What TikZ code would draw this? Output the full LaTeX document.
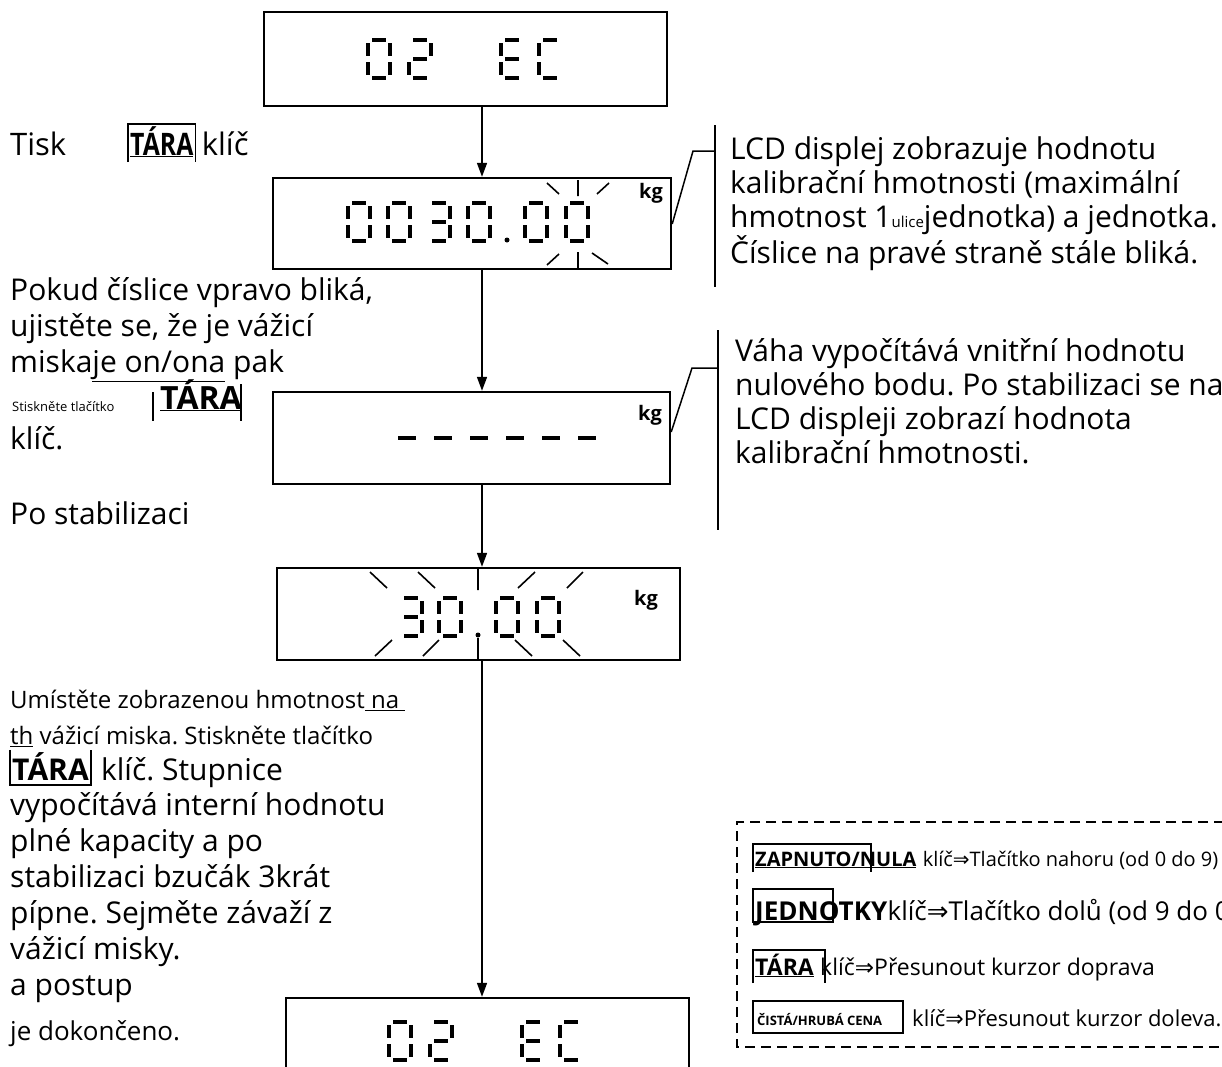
\documentclass[tikz,border=0pt]{standalone}
\usepackage{fontspec}
\setmainfont{Open Sans}
\newfontfamily\arrowfont{DejaVu Sans}
\newfontfamily\narrowfont[FakeStretch=0.8]{Open Sans}
\usetikzlibrary{positioning, arrows.meta}
\frenchspacing

\newcommand\px[1]{\fontsize{#1}{#1}\selectfont}
\newcommand\impl{{\arrowfont ⇒}}

% seven segment pieces, cell 26 x 42
\newcommand\sgA{\draw[segline] (6,2) -- (20,2);}
\newcommand\sgB{\draw[segline] (24,5) -- (24,18);}
\newcommand\sgC{\draw[segline] (24,24) -- (24,37);}
\newcommand\sgD{\draw[segline] (6,40) -- (20,40);}
\newcommand\sgE{\draw[segline] (2,24) -- (2,37);}
\newcommand\sgF{\draw[segline] (2,5) -- (2,18);}
\newcommand\sgG{\draw[segline] (6,21) -- (20,21);}
\newcommand\digzero{\sgA\sgB\sgC\sgD\sgE\sgF}
\newcommand\digtwo{\sgA\sgB\sgG\sgE\sgD}
\newcommand\digthree{\sgA\sgB\sgG\sgC\sgD}
\newcommand\digE{\sgA\sgF\sgG\sgE\sgD}
\newcommand\digC{\sgA\sgF\sgE\sgD}
\newcommand\segdigit[3]{\begin{scope}[shift={(#1,#2)}]#3\end{scope}}

\begin{document}
\begin{tikzpicture}[x=1pt, y=-1pt,
  lcd/.style={draw, line width=2.4pt, inner sep=0pt},
  segline/.style={line width=4pt},
  ray/.style={line width=1.6pt},
  arr/.style={-{Triangle[length=14pt, width=10pt]}, line width=1.6pt},
  leader/.style={line width=1.5pt},
  frame/.style={line width=1.5pt},
  txt/.style={anchor=base west, inner sep=0pt, font=\px{30}},
  blk/.style={anchor=north west, inner sep=0pt, align=left},
  kglabel/.style={inner sep=0pt, font=\bfseries\px{20}}]

\useasboundingbox (0,0) rectangle (1222,1066);
\clip (0,0) rectangle (1222,1066);

% the five displays
\node[lcd, minimum width=403pt, minimum height=94pt] (disp1) at (465.5,59) {};
\node[lcd, minimum width=398pt, minimum height=91pt] (disp2) at (472,223.5) {};
\node[lcd, minimum width=397pt, minimum height=92pt] (disp3) at (471.5,438) {};
\node[lcd, minimum width=403pt, minimum height=92pt] (disp4) at (478.5,614) {};
\node[lcd, minimum width=403pt, minimum height=110pt] (disp5) at (487.5,1053) {};

\coordinate (axis) at (482,0);
\foreach \a/\b in {disp1/disp2, disp2/disp3, disp3/disp4, disp4/disp5}
  \draw[arr] (\a.south -| axis) -- (\b.north -| axis);

% digits
\foreach \x/\dg in {366/\digzero, 407/\digtwo, 499/\digE, 537/\digC}
  \segdigit{\x}{38}{\dg};
\foreach \x/\dg in {346/\digzero, 386/\digzero, 426/\digthree, 466/\digzero, 523/\digzero, 564/\digzero}
  \segdigit{\x}{201}{\dg};
\fill (507,240) circle (2.5);
\foreach \x in {398,434,470,506,542,578}
  \draw[segline] (\x,438) -- ++(18,0);
\foreach \x/\dg in {398/\digthree, 437/\digzero, 494/\digzero, 535/\digzero}
  \segdigit{\x}{596}{\dg};
\fill (478,635) circle (2.5);
\foreach \x/\dg in {387/\digzero, 428/\digtwo, 520/\digE, 558/\digC}
  \segdigit{\x}{1020}{\dg};

\node[kglabel] (kg2) at (651,193) {kg};
\node[kglabel] (kg3) at (650,415) {kg};
\node[kglabel] (kg4) at (646,600) {kg};

% blinking marks
\draw[ray] (547,183) -- (559,194) (578,180) -- (578,196) (597,194) -- (609,183);
\draw[ray] (547,265) -- (559,254) (578,252) -- (578,269) (592,253) -- (608,264);
\draw[ray] (370,572) -- (387,588) (418,572) -- (435,588) (478,569) -- (478,590)
  (518,588) -- (535,572) (567,588) -- (583,572);
\draw[ray] (375,656) -- (392,640) (423,656) -- (439,640) (478,638) -- (478,660)
  (515,640) -- (532,656) (563,640) -- (580,656);

% callouts
\coordinate (bar1top) at (715,125);
\coordinate (bar1bot) at (715,287);
\draw[leader] (bar1top) -- (bar1bot);
\draw[leader] (disp2.east |- 0,224) -- (693,151) -- (bar1top |- 0,151);
\node[blk, font=\fontsize{30}{34}\selectfont] (note1) at (730,129)
  {\rule{0pt}{30pt}LCD displej zobrazuje hodnotu\\kalibrační hmotnosti (maximální\\hmotnost 1{\px{15}ulice}jednotka) a jednotka.\\Číslice na pravé straně stále bliká.};

\coordinate (bar2top) at (718,330);
\coordinate (bar2bot) at (718,530);
\draw[leader] (bar2top) -- (bar2bot);
\draw[leader] (disp3.east |- 0,432) -- (692,368) -- (bar2top |- 0,368);
\node[blk, font=\fontsize{30}{34}\selectfont] (note2) at (735,331)
  {\rule{0pt}{30pt}Váha vypočítává vnitřní hodnotu\\nulového bodu. Po stabilizaci se na\\LCD displeji zobrazí hodnota\\kalibrační hmotnosti.};

% left column
\node[txt, font=\px{31}] (tisk) at (10,155) {Tisk};
\node[txt, font=\narrowfont\bfseries\px{31}, inner sep=2pt] (tara1) at (128,155) {\underline{TÁRA}};
\draw[frame] ([yshift=-3pt]tara1.south west) |- (tara1.north east) -- ([yshift=-3pt]tara1.south east);
\node[txt, font=\px{31}, base right=6pt of tara1] (klic1) {klíč};

\node[blk, font=\fontsize{30}{36}\selectfont] (pokud) at (10,270)
  {\rule{0pt}{30pt}Pokud číslice vpravo bliká,\\ujistěte se, že je vážicí\\miska\underline{je on/ona} pak};
\node[txt, font=\px{13}] (stisk) at (12,411) {Stiskněte tlačítko};
\node[txt, font=\bfseries\px{32}] (tara2) at (160,409) {\underline{TÁRA}};
\draw[frame] (153,392) -- (153,421);
\draw[frame] (241,384) -- (241,421);
\node[txt] (klic2) at (10,449) {klíč.};
\node[txt] (postab) at (10,524) {Po stabilizaci};

\node[blk, font=\fontsize{24}{36}\selectfont] (umist) at (10,684)
  {\rule{0pt}{24pt}Umístěte zobrazenou hmotnost\underline{ na }\\\underline{th} vážicí miska. Stiskněte tlačítko};
\node[txt, font=\bfseries\px{30}, inner sep=2pt] (tara3) at (10,780) {TÁRA};
\draw[frame] (tara3.north west) -- ([yshift=-3pt]tara3.south west) -- ([yshift=-3pt]tara3.south east) -- (tara3.north east);
\node[txt, base right=10pt of tara3] (klic3) {klíč. Stupnice};
\node[blk, font=\fontsize{30}{36}\selectfont] (vypoc) at (10,785)
  {\rule{0pt}{30pt}vypočítává interní hodnotu\\plné kapacity a po\\stabilizaci bzučák 3krát\\pípne. Sejměte závaží z\\vážicí misky.\\a postup};
\node[txt, font=\px{26}] (hotovo) at (10,1040) {je dokončeno.};

% key legend
\draw[line width=2pt, dash pattern=on 10pt off 6pt] (1240,822) -| (737,1047) -- (1240,1047);
\node[txt, font=\bfseries\px{20}] (zap) at (755,866) {\underline{ZAPNUTO/NULA}};
\draw[frame] (753,872) |- (871,844) -- (871,872);
\node[txt, font=\px{20}, base right=6pt of zap] (zapkey) {klíč\impl Tlačítko nahoru (od 0 do 9)};
\node[txt, font=\bfseries\px{26}] (jed) at (755,920) {JEDNOTKY};
\draw[frame] (753,889) rectangle (833,922);
\node[txt, font=\px{26}, base right=0pt of jed] (jedkey) {klíč\impl Tlačítko dolů (od 9 do 0)};
\node[txt, font=\bfseries\px{23}] (tara4) at (755,975) {\underline{TÁRA}};
\draw[frame] (753,983) |- (825,950) -- (825,983);
\node[txt, font=\px{23}, base right=6pt of tara4] (tarakey) {klíč\impl Přesunout kurzor doprava};
\draw[frame] (753,1001) rectangle (903,1033);
\node[txt, font=\bfseries\px{13}] (cista) at (757,1025) {ČISTÁ/HRUBÁ CENA};
\node[txt, font=\px{22}] (cistakey) at (912,1026) {klíč\impl Přesunout kurzor doleva.};
\end{tikzpicture}
\end{document}
